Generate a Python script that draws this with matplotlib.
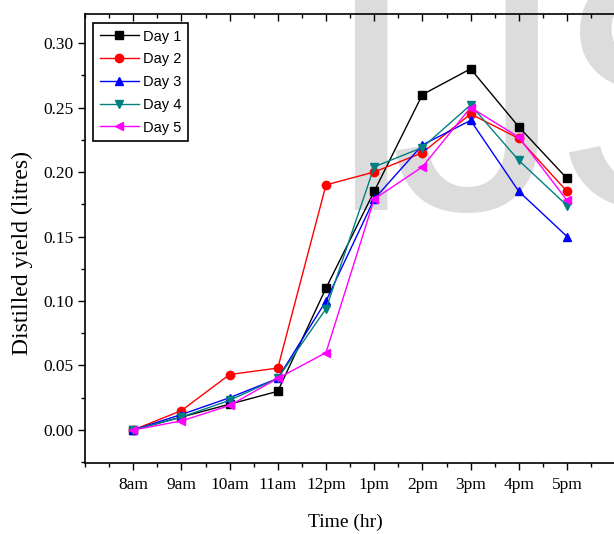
import matplotlib
matplotlib.use("Agg")
import matplotlib.pyplot as plt
from matplotlib.ticker import MultipleLocator

# ---------------- data ----------------
times = ["8am", "9am", "10am", "11am", "12pm", "1pm", "2pm", "3pm", "4pm", "5pm"]
day1 = [0.000, 0.010, 0.020, 0.030, 0.110, 0.185, 0.260, 0.280, 0.235, 0.195]
day2 = [0.000, 0.015, 0.043, 0.048, 0.190, 0.200, 0.215, 0.245, 0.226, 0.185]
day3 = [0.000, 0.012, 0.025, 0.040, 0.100, 0.179, 0.221, 0.240, 0.185, 0.150]
day4 = [0.000, 0.010, 0.023, 0.040, 0.094, 0.204, 0.219, 0.252, 0.209, 0.174]
day5 = [0.000, 0.007, 0.019, 0.040, 0.060, 0.179, 0.204, 0.250, 0.227, 0.178]

series = [("Day 1", day1, "black", "s"),
          ("Day 2", day2, "red", "o"),
          ("Day 3", day3, "blue", "^"),
          ("Day 4", day4, "#008080", "v"),
          ("Day 5", day5, "magenta", "<")]

x = list(range(1, len(times) + 1))

fig = plt.figure(figsize=(6.14, 5.34), dpi=100)
W, H = 614, 534
ax = fig.add_axes([85 / W, (H - 463) / H, (622 - 85) / W, (463 - 14) / H])
ax.patch.set_alpha(0)

# watermark letters behind the lines
for ch, cx in [("I", 371.5), ("J", 476), ("S", 668)]:
    ax.text(cx / W, (H - 210) / H, ch, transform=fig.transFigure,
            fontsize=250, color="#dcdcdc", family="Liberation Sans",
            ha="center", va="baseline", zorder=0, clip_on=False)

for name, vals, col, mk in series:
    ax.plot(x, vals, color=col, marker=mk, markersize=6, linewidth=1,
            label=name, zorder=3)

ax.set_xlim(0, (622 - 85) / 48.2)
ax.set_ylim(-0.0256, 0.3225)
ax.set_xticks(x)
ax.set_xticklabels(times)
ax.xaxis.set_minor_locator(MultipleLocator(0.5))
ax.yaxis.set_major_locator(MultipleLocator(0.05))
ax.yaxis.set_minor_locator(MultipleLocator(0.025))
ax.yaxis.set_major_formatter(plt.FuncFormatter(lambda v, p: f"{v:.2f}"))

serif = "Liberation Serif"
for lab in ax.get_xticklabels() + ax.get_yticklabels():
    lab.set_family(serif)
    lab.set_fontsize(12.5)

ax.tick_params(which="major", direction="out", length=5, width=1)
ax.tick_params(which="minor", direction="out", length=3, width=1)
ax.tick_params(which="both", top=True, right=False)
ax.tick_params(axis="x", pad=5)
for t in ax.xaxis.get_major_ticks() + ax.xaxis.get_minor_ticks():
    t.tick2line.set_marker(3)  # top ticks pointing down into the axes
ax.spines["right"].set_visible(False)
for sp in ax.spines.values():
    sp.set_linewidth(1.2)

ax.set_xlabel("Time (hr)", family=serif, fontsize=14)
ax.xaxis.set_label_coords((345 - 85) / (622 - 85), -(514 - 463) / (463 - 14))
ax.set_ylabel("Distilled yield (litres)", family=serif, fontsize=17)
ax.yaxis.set_label_coords(-(85 - 33) / (622 - 85), (463 - 253) / (463 - 14))

leg = ax.legend(loc="upper left", bbox_to_anchor=(93 / W, 1 - 23 / H),
                bbox_transform=fig.transFigure, borderaxespad=0,
                prop={"family": "Liberation Sans", "size": 10.5},
                handlelength=2.7, handletextpad=0.3, labelspacing=0.6,
                borderpad=0.45, fancybox=False, framealpha=1)
leg.get_frame().set_edgecolor("black")
leg.get_frame().set_linewidth(1.2)

fig.savefig("out.png", dpi=100)
